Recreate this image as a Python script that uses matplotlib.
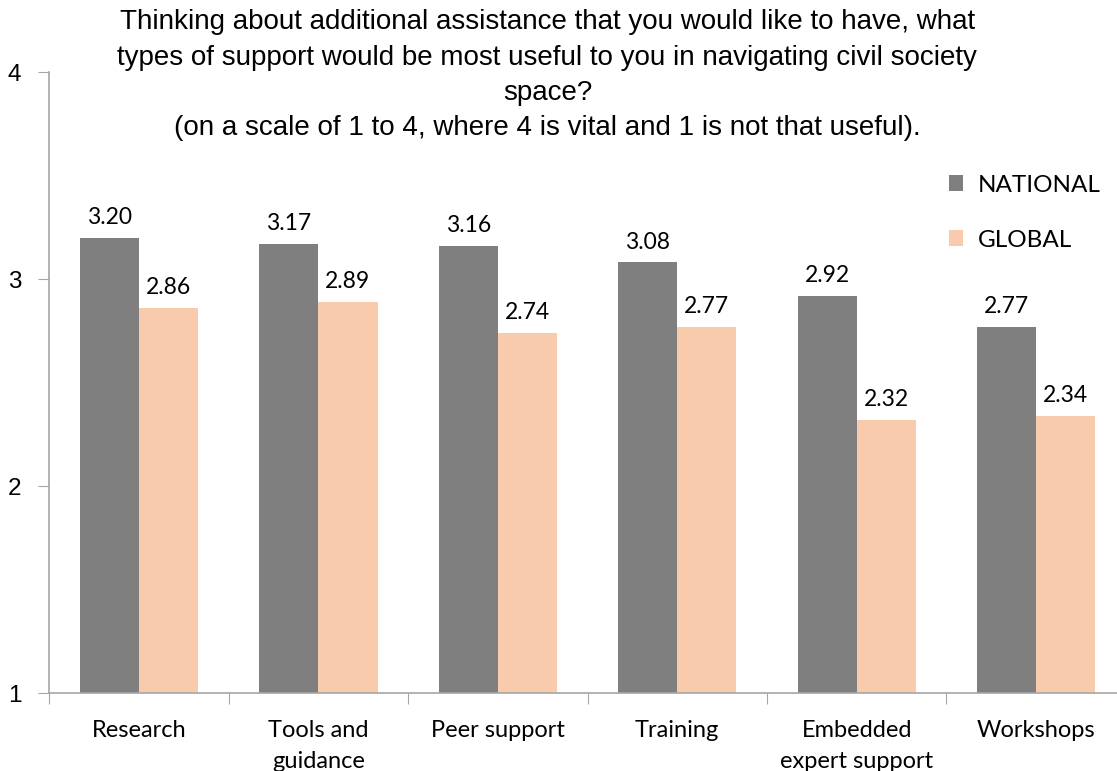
import matplotlib.pyplot as plt
import numpy as np

# data
categories = ['Research', 'Tools and\nguidance', 'Peer support', 'Training',
              'Embedded\nexpert support', 'Workshops']
national = [3.20, 3.17, 3.16, 3.08, 2.92, 2.77]
global_vals = [2.86, 2.89, 2.74, 2.77, 2.32, 2.34]
series_names = ['NATIONAL', 'GLOBAL']

title = ('Thinking about additional assistance that you would like to have, what\n'
         'types of support would be most useful to you in navigating civil society\n'
         'space?\n'
         '(on a scale of 1 to 4, where 4 is vital and 1 is not that useful).')

c_nat = '#7f7f7f'
c_glob = '#f8cbad'
label_font = ['Lato', 'DejaVu Sans']

fig = plt.figure(figsize=(11.17, 7.71), dpi=100)
ax = fig.add_axes([0.0439, 0.101, 0.9561, 0.8056])

x = np.arange(len(categories))
w = 0.33
b1 = ax.bar(x - w / 2, np.array(national) - 1, w, bottom=1, color=c_nat, label=series_names[0])
b2 = ax.bar(x + w / 2, np.array(global_vals) - 1, w, bottom=1, color=c_glob, label=series_names[1])

# valores em cima das barras
for bars, vals in [(b1, national), (b2, global_vals)]:
    for bar, v in zip(bars, vals):
        ax.annotate(f'{v:.2f}', (bar.get_x() + bar.get_width() / 2, v),
                    xytext=(0, 7), textcoords='offset points',
                    ha='center', va='bottom', fontsize=16.5, family=label_font)

ax.set_ylim(1, 4)
ax.set_xlim(-0.5, 5.45)
ax.set_yticks([1, 2, 3, 4])
ax.set_yticklabels(['1', '2', '3', '4'], fontsize=17.5, family='Liberation Sans')
ax.tick_params(axis='y', length=8, color='#a6a6a6', pad=12)

# x ticks between the groups
ax.set_xticks(np.arange(-0.5, 5.5, 1))
ax.set_xticklabels([])
ax.set_xticks(x, minor=True)
ax.set_xticklabels(categories, minor=True, fontsize=17, family=label_font,
                   linespacing=1.6, va='top')
ax.tick_params(axis='x', which='major', length=8, color='#a6a6a6')
ax.tick_params(axis='x', which='minor', length=0, pad=19)

for s in ['top', 'right']:
    ax.spines[s].set_visible(False)
for s in ['left', 'bottom']:
    ax.spines[s].set_color('#a6a6a6')
    ax.spines[s].set_linewidth(1.2)

leg = ax.legend(loc='upper left', bbox_to_anchor=(0.822, 0.87), frameon=False,
                handlelength=0.6, handleheight=0.6, labelspacing=1.4,
                handletextpad=0.6, prop={'family': label_font, 'size': 17.5})

fig.text(0.49, 0.988, title, ha='center', va='top', fontsize=20,
         family='Liberation Sans', linespacing=1.47)

fig.savefig('out.png', dpi=100)
